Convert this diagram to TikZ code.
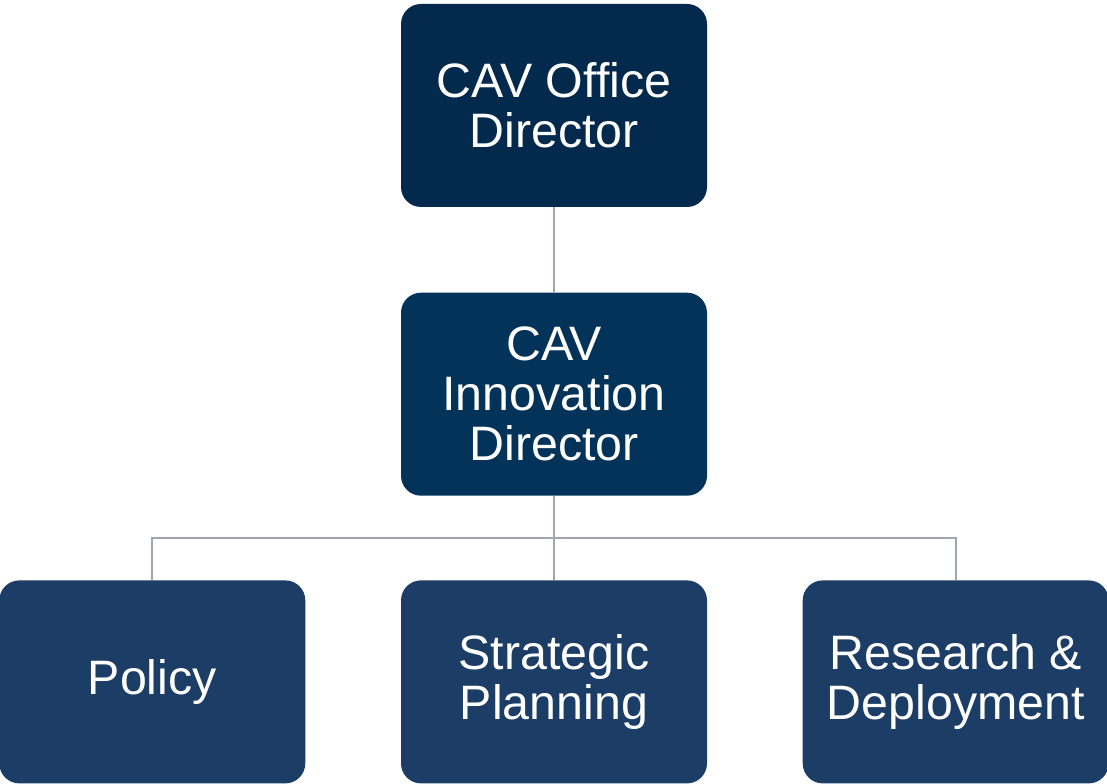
\documentclass[tikz,border=0pt]{standalone}
\usepackage{fontspec}
\setmainfont{Liberation Sans}
\usepackage{tikz}
\usetikzlibrary{positioning, calc}

\definecolor{navytop}{RGB}{3,41,76}
\definecolor{navymid}{RGB}{4,51,90}
\definecolor{navylow}{RGB}{27,61,102}
\definecolor{linkgray}{RGB}{160,165,178}

\begin{document}
\begin{tikzpicture}[
  orgbox/.style={rectangle, rounded corners=0.4cm, minimum width=6.12cm, minimum height=4.06cm, inner sep=0pt, text=white, align=center, font=\fontsize{27.5}{28.5}\selectfont},
  link/.style={draw=linkgray, line width=1.1pt}
]

\useasboundingbox (0,0) rectangle (22.14,15.68);

% nodes
\node[orgbox, fill=navytop] (Office) at (11.08,13.57) {CAV Office\\Director};
\node[orgbox, fill=navymid] (Innov) [below=1.7cm of Office] {CAV\\Innovation\\Director};
\node[orgbox, fill=navylow] (Strat) [below=1.68cm of Innov] {Strategic\\Planning};
\node[orgbox, fill=navylow] (Policy) [left=1.9cm of Strat] {Policy};
\node[orgbox, fill=navylow] (Research) [right=1.9cm of Strat] {Research \&\\Deployment};

% junction of the bar
\coordinate (Bar) at ($(Innov.south)!0.5!(Strat.north)$);

% links
\draw[link] (Office) -- (Innov);
\draw[link] (Innov) -- (Strat);
\draw[link] (Bar) -| (Policy.north);
\draw[link] (Bar) -| (Research.north);

\end{tikzpicture}
\end{document}
